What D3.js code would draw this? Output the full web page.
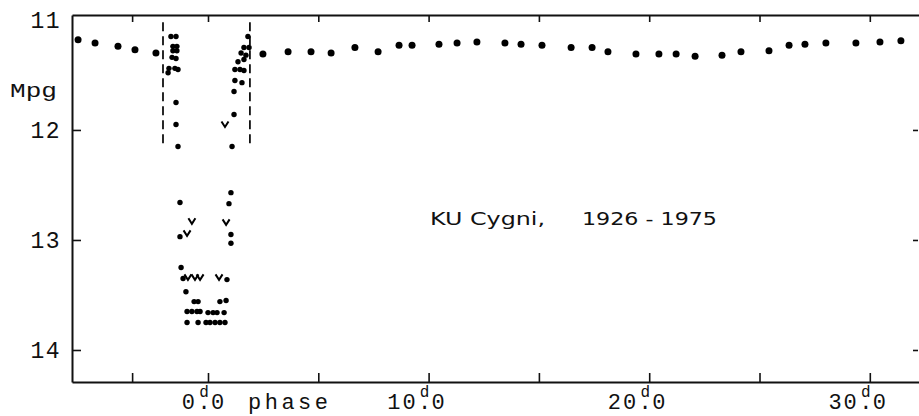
<!DOCTYPE html>
<html>
  <head>
    <title>KU Cygni</title>
    <script src="https://cdn.jsdelivr.net/npm/d3@7"></script>
    <style>
      body {
        margin: 0;
        background: white;
      }
      svg {
        display: block;
      }
      .mono {
        font-family: "Liberation Mono", "DejaVu Sans Mono", monospace;
        fill: #111;
      }
    </style>
  </head>
  <body>
    <script>
    // phase in days, mag = photographic magnitude
    var outPhase = [-5.89, -5.12, -4.08, -3.31, -2.36, 2.49, 3.63, 4.67, 5.58, 6.66, 7.71, 8.66, 9.25,
      10.47, 11.29, 12.19, 13.46, 14.19, 15.14, 16.46, 17.41, 18.13, 19.40, 20.44, 21.22, 22.08,
      23.30, 24.16, 25.43, 26.34, 27.06, 28.01, 29.37, 30.46, 31.41];
    var outMag = [11.18, 11.21, 11.24, 11.27, 11.30, 11.31, 11.29, 11.29, 11.30, 11.25, 11.29, 11.23, 11.23,
      11.22, 11.21, 11.20, 11.21, 11.22, 11.23, 11.25, 11.25, 11.29, 11.31, 11.31, 11.31, 11.33,
      11.32, 11.29, 11.28, 11.23, 11.22, 11.21, 11.21, 11.20, 11.19];

    var eclPhase = [-1.68, -1.45, -1.59, -1.41, -1.59, -1.41, -1.63, -1.45, -1.77, -1.50, -1.36, -1.81,
      -1.45, -1.45, -1.36, -1.27, -1.27, -1.22, -1.13, -1.00, -0.63, -0.45, -0.95, -0.73, -0.50,
      -0.36, 0.00, 0.23, 0.41, 0.73, -0.95, -0.45, -0.09, 0.09, 0.32, 0.54, 0.77, 0.54, 0.82,
      0.86, 0.95, 1.04, 1.04, 1.04, 1.09, 1.18, 1.18, 1.22, 1.54, 1.22, 1.45, 1.63, 1.36, 1.63,
      1.50, 1.72, 1.63, 1.86, 1.81];
    var eclMag = [11.15, 11.15, 11.24, 11.24, 11.28, 11.28, 11.34, 11.35, 11.44, 11.44, 11.45, 11.48,
      11.75, 11.95, 12.15, 12.66, 12.97, 13.25, 13.35, 13.47, 13.56, 13.56, 13.65, 13.65, 13.65,
      13.65, 13.66, 13.66, 13.66, 13.66, 13.75, 13.75, 13.75, 13.75, 13.75, 13.75, 13.75, 13.56, 13.55,
      13.36, 12.67, 12.57, 12.95, 13.03, 12.15, 11.86, 11.65, 11.55, 11.57, 11.45, 11.45, 11.46, 11.38, 11.36,
      11.30, 11.32, 11.25, 11.25, 11.15];

    // fainter-than estimates ("v")
    var limPhase = [0.77, -0.73, -0.95, -0.91, -0.59, -0.36, 0.50, 0.82];
    var limMag = [11.95, 12.83, 12.94, 13.34, 13.34, 13.34, 13.34, 12.84];

    // eclipse contacts
    var contactPhase = [-2.04, 1.90];
    var contactMag = [11.02, 12.15];

    var tickPhase = [-3.44, 0, 5, 10, 15, 20, 25, 30];
    var labelPhase = [0, 10, 20, 30];
    var tickMag = [12, 13, 14];
    var labelMag = [11, 12, 13, 14];

    var width = 919, height = 416;
    var plotL = 72, plotR = 919, plotT = 15, plotB = 382;

    var x = d3.scaleLinear().domain([-6.165, 32.23]).range([plotL, plotR]);
    var y = d3.scaleLinear().domain([10.955, 14.291]).range([plotT, plotB]);

    var svg = d3.select('body').append('svg')
      .attr('width', width)
      .attr('height', height);

    function styleAxis (g, hideDomain) {
      g.selectAll('path.domain').attr('stroke', '#111').attr('stroke-width', 2)
        .style('display', hideDomain ? 'none' : null);
      g.selectAll('.tick line').attr('stroke', '#111').attr('stroke-width', 1.6);
    }

    svg.append('g')
      .attr('transform', 'translate(0,' + plotB + ')')
      .call(d3.axisBottom(x).tickValues(tickPhase).tickSizeInner(-9).tickSizeOuter(0).tickFormat(''))
      .call(styleAxis, false);

    svg.append('g')
      .attr('transform', 'translate(0,' + plotT + ')')
      .call(d3.axisTop(x).tickValues(tickPhase).tickSizeInner(-7).tickSizeOuter(0).tickFormat(''))
      .call(styleAxis, false);

    svg.append('g')
      .attr('transform', 'translate(' + plotL + ',0)')
      .call(d3.axisLeft(y).tickValues(tickMag).tickSizeInner(-9).tickSizeOuter(0).tickFormat(''))
      .call(styleAxis, false);

    svg.append('g')
      .attr('transform', 'translate(' + (plotR - 1) + ',0)')
      .call(d3.axisRight(y).tickValues(tickMag).tickSizeInner(-5).tickSizeOuter(0).tickFormat(''))
      .call(styleAxis, true);

    // y labels
    svg.selectAll('text.ylab')
      .data(labelMag)
      .enter().append('text')
      .attr('class', 'ylab mono')
      .attr('x', 61)
      .attr('y', function (d) { return y(d) + 8; })
      .attr('text-anchor', 'end')
      .attr('font-size', 23)
      .attr('letter-spacing', 1.5)
      .text(function (d) { return d; });

    svg.append('text')
      .attr('class', 'mono')
      .attr('x', 10)
      .attr('y', 97)
      .attr('font-size', 20)
      .attr('textLength', 47)
      .attr('lengthAdjust', 'spacingAndGlyphs')
      .text('Mpg');

    // x labels like 10d0 : integer part, decimal point with superscript d, fraction
    var cell = 16, base = 409;
    var xl = svg.selectAll('text.xlab')
      .data(labelPhase)
      .enter().append('text')
      .attr('class', 'xlab mono')
      .attr('font-size', 22)
      .attr('transform', function (d) { return 'translate(' + (x(d) - 4) + ',0)'; });
    xl.append('tspan')
      .attr('x', -cell / 2 + 1)
      .attr('y', base)
      .attr('text-anchor', 'end')
      .attr('letter-spacing', 2)
      .text(function (d) { return d; });
    xl.append('tspan')
      .attr('x', 0)
      .attr('y', base)
      .attr('text-anchor', 'middle')
      .text('.');
    xl.append('tspan')
      .attr('x', 0)
      .attr('y', 397)
      .attr('text-anchor', 'middle')
      .attr('font-size', 16)
      .text('d');
    xl.append('tspan')
      .attr('x', cell / 2 - 1)
      .attr('y', base)
      .attr('text-anchor', 'start')
      .text('0');

    svg.append('text')
      .attr('class', 'mono')
      .attr('x', 248)
      .attr('y', base)
      .attr('font-size', 22)
      .attr('textLength', 80)
      .attr('lengthAdjust', 'spacing')
      .text('phase');

    // contact lines
    svg.selectAll('line.contact')
      .data(contactPhase)
      .enter().append('line')
      .attr('class', 'contact')
      .attr('x1', function (d) { return x(d); })
      .attr('x2', function (d) { return x(d); })
      .attr('y1', y(contactMag[0]))
      .attr('y2', y(contactMag[1]))
      .attr('stroke', '#111')
      .attr('stroke-width', 1.8)
      .attr('stroke-dasharray', '9,5');

    svg.selectAll('circle.out')
      .data(d3.range(outPhase.length))
      .enter().append('circle')
      .attr('class', 'out')
      .attr('cx', function (i) { return x(outPhase[i]); })
      .attr('cy', function (i) { return y(outMag[i]); })
      .attr('r', 3.5)
      .attr('fill', '#000');

    svg.selectAll('circle.ecl')
      .data(d3.range(eclPhase.length))
      .enter().append('circle')
      .attr('class', 'ecl')
      .attr('cx', function (i) { return x(eclPhase[i]); })
      .attr('cy', function (i) { return y(eclMag[i]); })
      .attr('r', 2.7)
      .attr('fill', '#000');

    svg.selectAll('path.lim')
      .data(d3.range(limPhase.length))
      .enter().append('path')
      .attr('class', 'lim')
      .attr('transform', function (i) { return 'translate(' + x(limPhase[i]) + ',' + y(limMag[i]) + ')'; })
      .attr('d', 'M-3.5,-3L0,2.5L3.5,-3')
      .attr('fill', 'none')
      .attr('stroke', '#000')
      .attr('stroke-width', 2);

    svg.append('text')
      .attr('x', 430)
      .attr('y', 225)
      .attr('font-family', '"DejaVu Sans", sans-serif')
      .attr('font-size', 17)
      .attr('textLength', 115)
      .attr('lengthAdjust', 'spacingAndGlyphs')
      .attr('fill', '#111')
      .text('KU Cygni,');

    svg.append('text')
      .attr('x', 582)
      .attr('y', 225)
      .attr('font-family', '"DejaVu Sans", sans-serif')
      .attr('font-size', 17)
      .attr('textLength', 135)
      .attr('lengthAdjust', 'spacingAndGlyphs')
      .attr('fill', '#111')
      .text('1926 - 1975');
    </script>
  </body>
</html>
